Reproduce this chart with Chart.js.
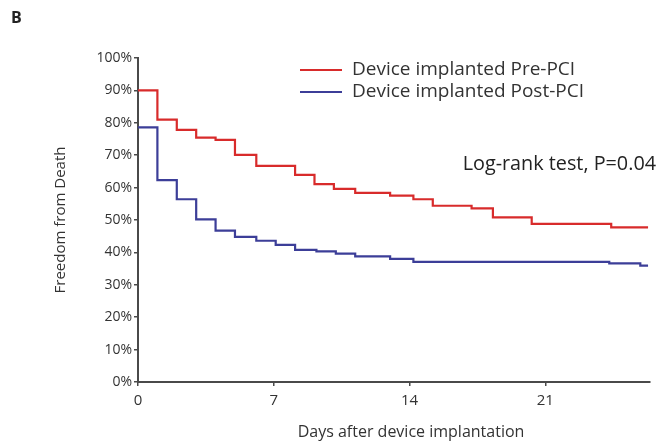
<!DOCTYPE html>
<html><head><meta charset="utf-8">
<script src="https://cdn.jsdelivr.net/npm/chart.js@4"></script>
<style>html,body{margin:0;padding:0;background:#fff}#wrap{position:relative;width:661px;height:443px}</style>
</head><body><div id="wrap"><canvas id="c" width="661" height="443"></canvas></div>
<script>
const panelLabel = 'B';
const seriesNames = ['Device implanted Pre-PCI', 'Device implanted Post-PCI'];
const preDays  = [0, 1, 2, 3, 4, 5, 6.1, 8.1, 9.1, 10.1, 11.2, 13, 14.2, 15.2, 17.2, 18.3, 20.3, 24.4, 26.3];
const preSurv  = [90, 81, 77.8, 75.4, 74.7, 70.1, 66.7, 63.9, 61.1, 59.6, 58.4, 57.5, 56.4, 54.4, 53.6, 50.8, 48.8, 47.7, 47.7];
const postDays = [0, 1, 2, 3, 4, 5, 6.1, 7.1, 8.1, 9.2, 10.2, 11.2, 13, 14.2, 24.3, 25.9, 26.3];
const postSurv = [78.6, 62.3, 56.4, 50.2, 46.7, 44.8, 43.6, 42.3, 40.8, 40.3, 39.6, 38.8, 38, 37.1, 36.6, 35.9, 35.9];
const xTicks = [0, 7, 14, 21];
const yTicks = [0, 10, 20, 30, 40, 50, 60, 70, 80, 90, 100];
const xTitle = 'Days after device implantation';
const yTitle = 'Freedom from Death';
const statText = 'Log-rank test, P=0.04';

const RED = '#d82b2b', BLUE = '#3c3e98', TXT = '#333333', AX = '#4a4a4a';
const FONT = 'Open Sans';

const toPts = (xs, ys) => xs.map((x, i) => ({x, y: ys[i]}));

const overlay = {
  id: 'overlay',
  afterDraw(chart) {
    const ctx = chart.ctx;
    ctx.save();
    ctx.textBaseline = 'middle';
    ctx.fillStyle = '#222';
    ctx.font = 'bold 16px "Open Sans"';
    ctx.fillText(panelLabel, 11, 18);
    const cols = [RED, BLUE];
    const ys = [70, 92];
    ctx.font = '19px "Open Sans"';
    for (let i = 0; i < 2; i++) {
      ctx.strokeStyle = cols[i];
      ctx.lineWidth = 2;
      ctx.beginPath(); ctx.moveTo(300, ys[i]); ctx.lineTo(342, ys[i]); ctx.stroke();
      ctx.fillStyle = TXT;
      ctx.textAlign = 'left';
      ctx.fillText(seriesNames[i], 352, ys[i]);
    }
    ctx.font = '19.8px "Open Sans"';
    ctx.fillStyle = '#222';
    ctx.textAlign = 'right';
    ctx.fillText(statText, 656, 164);
    ctx.font = '16px "Open Sans"';
    ctx.fillStyle = TXT;
    ctx.textAlign = 'center';
    ctx.fillText(xTitle, 411, 432);
    ctx.restore();
  }
};

new Chart(document.getElementById('c'), {
  type: 'line',
  data: {
    datasets: [
      {label: seriesNames[0], data: toPts(preDays, preSurv), borderColor: RED, borderWidth: 2.2, stepped: true, pointRadius: 0, fill: false, clip: 4},
      {label: seriesNames[1], data: toPts(postDays, postSurv), borderColor: BLUE, borderWidth: 2.2, stepped: true, pointRadius: 0, fill: false, clip: 4}
    ]
  },
  options: {
    responsive: false,
    animation: false,
    layout: {padding: {top: 58, right: 11, left: 0, bottom: 0}},
    plugins: {legend: {display: false}, tooltip: {enabled: false}},
    scales: {
      x: {
        type: 'linear', min: 0, max: 26.4,
        afterBuildTicks: s => { s.ticks = xTicks.map(v => ({value: v})); },
        ticks: {color: TXT, font: {family: FONT, size: 15}, padding: 6, maxRotation: 0, autoSkip: false},
        grid: {display: true, drawOnChartArea: false, tickLength: 4, color: AX, lineWidth: 1.5},
        border: {display: true, color: AX, width: 2},
        title: {display: false},
        afterFit: s => { s.height = 61; }
      },
      y: {
        min: 0, max: 100,
        afterBuildTicks: s => { s.ticks = yTicks.map(v => ({value: v})); },
        ticks: {color: TXT, font: {family: FONT, size: 14}, padding: 2, callback: v => v + '%'},
        grid: {display: true, drawOnChartArea: false, tickLength: 4, color: AX, lineWidth: 1.5},
        border: {display: true, color: AX, width: 2},
        title: {display: true, text: yTitle, color: TXT, font: {family: FONT, size: 15}, padding: {top: 52, bottom: 0}},
        afterFit: s => { s.width = 138; }
      }
    }
  },
  plugins: [overlay]
});
</script></body></html>
